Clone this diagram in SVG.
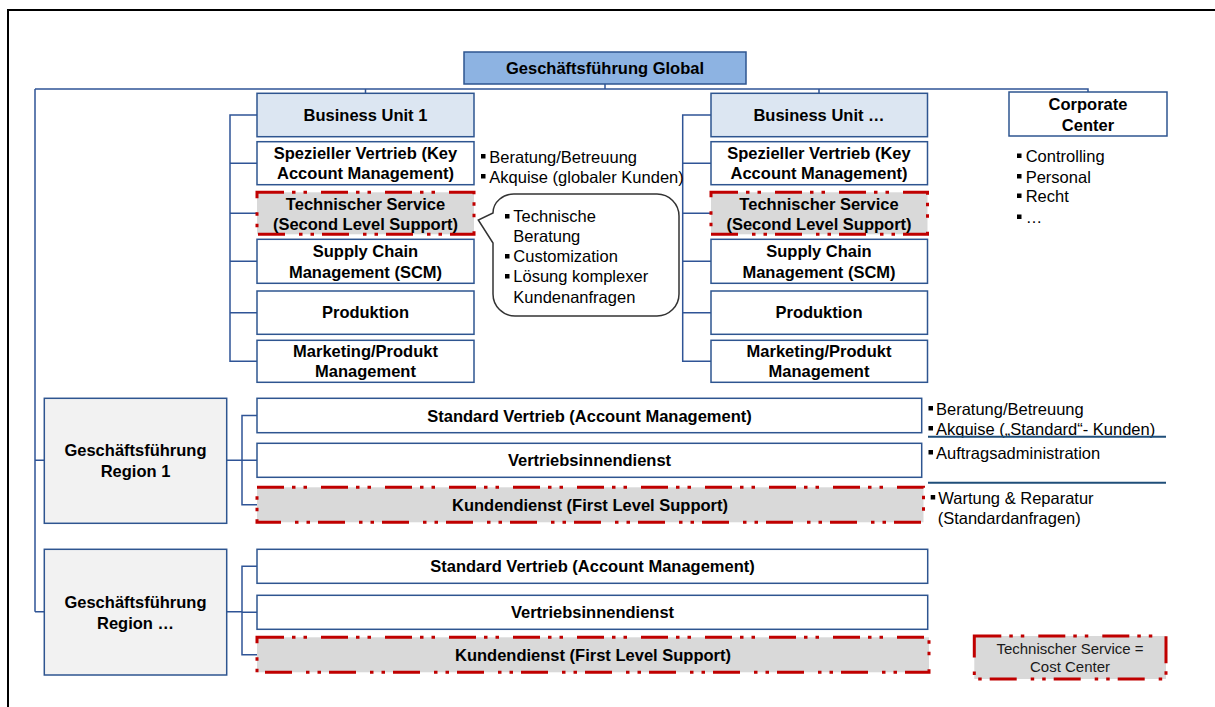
<svg xmlns="http://www.w3.org/2000/svg" width="1215" height="707" viewBox="0 0 1215 707">
<style>
text{font-family:"Liberation Sans",Arial,sans-serif;font-size:16.5px;fill:#000}
.b{font-weight:bold;text-anchor:middle}
.box{fill:#fff;stroke:#2e5590;stroke-width:1.5}
.bu{fill:#dce6f2;stroke:#2e5590;stroke-width:1.5}
.gl{fill:#8db3e2;stroke:#2e5590;stroke-width:1.5}
.rg{fill:#f2f2f2;stroke:#2e5590;stroke-width:1.5}
.cc{fill:#d9d9d9;stroke:#c00000;stroke-width:3;stroke-dasharray:27 8 3.5 8 3.5 14}
.ln{fill:none;stroke:#2f5496;stroke-width:1.5}
.sep{stroke:#1f4e79;stroke-width:2}
.bl{fill:#000}
</style>
<rect x="8" y="10" width="1300" height="800" fill="#fff" stroke="#000" stroke-width="2"/>

<g id="connectors" class="ln">
  <path d="M605,84 V89 M35,89 H1088 V92 M365.5,89 V93.3 M819,89 V93.3"/>
  <path d="M35,89 V611.7 M35,460.3 H44.3 M35,611.7 H44.3"/>
  <path d="M257,115 H230 V361.3 H257 M230,163.2 H257 M230,213.3 H257 M230,261.3 H257 M230,312.7 H257"/>
  <path d="M711,115 H682.7 V361.3 H711 M682.7,163.2 H711 M682.7,213.3 H711 M682.7,261.3 H711 M682.7,312.7 H711"/>
  <path d="M226.7,460.3 H242 M257,415.5 H242 V504.8 H257 M242,460.3 H257"/>
  <path d="M226.7,611.7 H242 M257,566.3 H242 V654.8 H257 M242,612.3 H257"/>
</g>

<g id="global">
  <rect class="gl" x="464" y="52" width="282" height="32"/>
  <text class="b" x="605" y="73.5">Geschäftsführung Global</text>
</g>

<g id="bu1">
  <rect class="bu" x="257" y="93.3" width="217" height="43.4"/>
  <text class="b" x="365.5" y="121">Business Unit 1</text>
</g>
<g id="bu1-kam">
  <rect class="box" x="257" y="141.7" width="217" height="43"/>
  <text class="b" x="365.5" y="159">Spezieller Vertrieb (Key</text>
  <text class="b" x="365.5" y="179">Account Management)</text>
</g>
<g id="bu1-ts">
  <rect class="cc" x="257" y="192.3" width="217" height="42"/>
  <text class="b" x="365.5" y="209.5">Technischer Service</text>
  <text class="b" x="365.5" y="229.5">(Second Level Support)</text>
</g>
<g id="bu1-scm">
  <rect class="box" x="257" y="239.3" width="217" height="44"/>
  <text class="b" x="365.5" y="256.8">Supply Chain</text>
  <text class="b" x="365.5" y="277.5">Management (SCM)</text>
</g>
<g id="bu1-prod">
  <rect class="box" x="257" y="291" width="217" height="43.3"/>
  <text class="b" x="365.5" y="317.5">Produktion</text>
</g>
<g id="bu1-mkt">
  <rect class="box" x="257" y="340.3" width="217" height="42"/>
  <text class="b" x="365.5" y="356.8">Marketing/Produkt</text>
  <text class="b" x="365.5" y="377.3">Management</text>
</g>

<g id="bu1-notes">
  <rect class="bl" x="481" y="154" width="4.5" height="4.5"/>
  <text x="489.3" y="162.5">Beratung/Betreuung</text>
  <rect class="bl" x="481" y="174" width="4.5" height="4.5"/>
  <text x="489.3" y="182.5">Akquise (globaler Kunden)</text>
</g>

<g id="callout">
  <path d="M515,194 H657 A22,22 0 0 1 679,216 V294 A22,22 0 0 1 657,316 H515 A22,22 0 0 1 493,294 V243 L478.3,220 L493,213 A21,19 0 0 1 515,194 Z" fill="#fff" stroke="#333" stroke-width="1.5"/>
  <rect class="bl" x="505" y="214" width="4.5" height="4.5"/>
  <text x="513.3" y="222">Technische</text>
  <text x="513.3" y="242">Beratung</text>
  <rect class="bl" x="505" y="254" width="4.5" height="4.5"/>
  <text x="513.3" y="262">Customization</text>
  <rect class="bl" x="505" y="274" width="4.5" height="4.5"/>
  <text x="513.3" y="282">Lösung komplexer</text>
  <text x="513.3" y="302.5">Kundenanfragen</text>
</g>

<g id="bun">
  <rect class="bu" x="711" y="93.3" width="216.5" height="43.4"/>
  <text class="b" x="819" y="121">Business Unit …</text>
</g>
<g id="bun-kam">
  <rect class="box" x="711" y="141.7" width="216.5" height="43"/>
  <text class="b" x="819" y="159">Spezieller Vertrieb (Key</text>
  <text class="b" x="819" y="179">Account Management)</text>
</g>
<g id="bun-ts">
  <rect class="cc" x="711" y="192.3" width="216.5" height="42"/>
  <text class="b" x="819" y="209.5">Technischer Service</text>
  <text class="b" x="819" y="229.5">(Second Level Support)</text>
</g>
<g id="bun-scm">
  <rect class="box" x="711" y="239.3" width="216.5" height="44"/>
  <text class="b" x="819" y="256.8">Supply Chain</text>
  <text class="b" x="819" y="277.5">Management (SCM)</text>
</g>
<g id="bun-prod">
  <rect class="box" x="711" y="291" width="216.5" height="43.3"/>
  <text class="b" x="819" y="317.5">Produktion</text>
</g>
<g id="bun-mkt">
  <rect class="box" x="711" y="340.3" width="216.5" height="42"/>
  <text class="b" x="819" y="356.8">Marketing/Produkt</text>
  <text class="b" x="819" y="377.3">Management</text>
</g>

<g id="corporate">
  <rect class="box" x="1009" y="92" width="158" height="44"/>
  <text class="b" x="1088" y="110">Corporate</text>
  <text class="b" x="1088" y="130.5">Center</text>
</g>
<g id="corporate-notes">
  <rect class="bl" x="1017" y="153.5" width="4.5" height="4.5"/>
  <text x="1025.7" y="162">Controlling</text>
  <rect class="bl" x="1017" y="174" width="4.5" height="4.5"/>
  <text x="1025.7" y="182.5">Personal</text>
  <rect class="bl" x="1017" y="193.5" width="4.5" height="4.5"/>
  <text x="1025.7" y="202">Recht</text>
  <rect class="bl" x="1017" y="214.5" width="4.5" height="4.5"/>
  <text x="1025.7" y="222.5">…</text>
</g>

<g id="region1">
  <rect class="rg" x="44.3" y="398.3" width="182.4" height="125"/>
  <text class="b" x="135.5" y="456">Geschäftsführung</text>
  <text class="b" x="135.5" y="476.5">Region 1</text>
</g>
<g id="r1-sv">
  <rect class="box" x="257" y="398.3" width="664.7" height="34.4"/>
  <text class="b" x="589.5" y="421.5">Standard Vertrieb (Account Management)</text>
</g>
<g id="r1-vi">
  <rect class="box" x="257" y="443.3" width="664.7" height="34"/>
  <text class="b" x="589.5" y="466.3">Vertriebsinnendienst</text>
</g>
<g id="r1-kd">
  <rect class="cc" x="257" y="487.3" width="666.5" height="35"/>
  <text class="b" x="590" y="510.8">Kundendienst (First Level Support)</text>
</g>
<g id="r1-notes">
  <rect class="bl" x="928.5" y="406" width="4.5" height="4.5"/>
  <text x="936" y="414.5">Beratung/Betreuung</text>
  <rect class="bl" x="928.5" y="426" width="4.5" height="4.5"/>
  <text x="936" y="434.5">Akquise („Standard“- Kunden)</text>
  <line class="sep" x1="928" y1="436.8" x2="1166" y2="436.8"/>
  <rect class="bl" x="928.5" y="450" width="4.5" height="4.5"/>
  <text x="936" y="458.5">Auftragsadministration</text>
  <line class="sep" x1="928" y1="482.7" x2="1166" y2="482.7"/>
  <rect class="bl" x="930.7" y="495" width="4.5" height="4.5"/>
  <text x="938.3" y="503.5">Wartung &amp; Reparatur</text>
  <text x="937.7" y="523.5">(Standardanfragen)</text>
</g>

<g id="regionN">
  <rect class="rg" x="44.3" y="549.3" width="182.4" height="125.7"/>
  <text class="b" x="135.5" y="608">Geschäftsführung</text>
  <text class="b" x="135.5" y="628.5">Region …</text>
</g>
<g id="rn-sv">
  <rect class="box" x="257" y="549.3" width="670.7" height="34"/>
  <text class="b" x="592.5" y="572.3">Standard Vertrieb (Account Management)</text>
</g>
<g id="rn-vi">
  <rect class="box" x="257" y="595.3" width="670.7" height="34"/>
  <text class="b" x="592.5" y="618.3">Vertriebsinnendienst</text>
</g>
<g id="rn-kd">
  <rect class="cc" x="257" y="637.3" width="672" height="35"/>
  <text class="b" x="593" y="660.8">Kundendienst (First Level Support)</text>
</g>

<g id="legend">
  <rect class="cc" x="974.3" y="636" width="191.7" height="43"/>
  <text x="1070" y="653.5" style="font-size:15px;text-anchor:middle;fill:#1a1a1a">Technischer Service =</text>
  <text x="1070" y="671.5" style="font-size:15px;text-anchor:middle;fill:#1a1a1a">Cost Center</text>
</g>
</svg>
